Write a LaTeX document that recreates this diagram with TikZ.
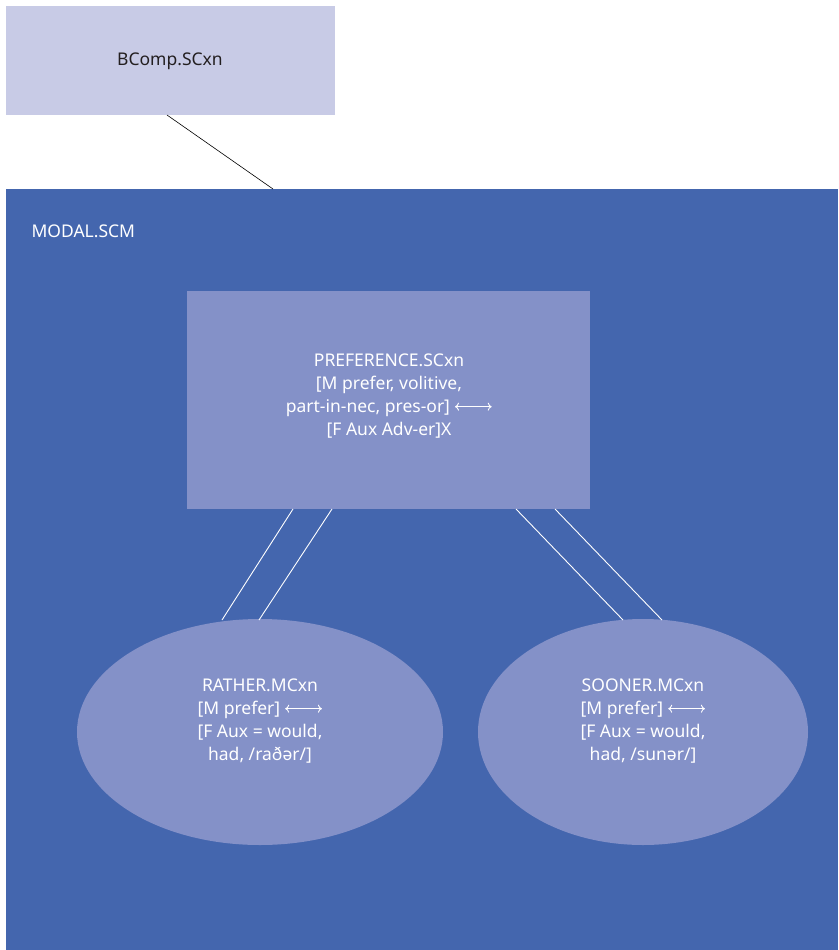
\documentclass[tikz,border=0pt]{standalone}
\usepackage{fontspec}
\setmainfont{Noto Sans}
\definecolor{topfill}{RGB}{200,203,230}
\definecolor{bigfill}{RGB}{68,102,174}
\definecolor{midfill}{RGB}{132,145,200}
\definecolor{toptext}{RGB}{35,31,32}
\newcommand{\lrarr}{\tikz[baseline=0pt] \draw[white, line width=0.9pt, {To[length=4pt,width=8pt]}-{To[length=4pt,width=8pt]}] (0,0.33em) -- (2.1em,0.33em);}
\tikzset{
  txt/.style={font=\fontsize{17.5}{23}\selectfont, text=white, align=center},
  wline/.style={draw=white, line width=0.9pt},
}
\usetikzlibrary{arrows.meta}
\begin{document}
\begin{tikzpicture}[x=1pt,y=-1pt]
\useasboundingbox (0,0) rectangle (838,950);
\fill[white] (0,0) rectangle (838,950);
% top box
\fill[topfill] (6,6) rectangle (335,115);
\node[txt, text=toptext] (bcomp) at (170,61) {BComp.SCxn};
\coordinate (bcompb) at (167,115);
% big box
\fill[bigfill] (6,189) rectangle (838,950);
\coordinate (bigt) at (273,189);
\node[txt, anchor=west] (modal) at (28,231) {MODAL.SCM};
\draw[black, line width=0.6pt] (bcompb) -- (bigt);
% preference box
\fill[midfill] (187,291) rectangle (590,509);
\node[txt] (pref) at (389,396) {PREFERENCE.SCxn\\ {[}M prefer, volitive,\\ part-in-nec, pres-or] \lrarr\\ {[}F Aux Adv-er]X};
% ellipses
\fill[midfill] (260,732) ellipse [x radius=183, y radius=113];
\fill[midfill] (643,732) ellipse [x radius=165, y radius=113];
\node[txt] (rather) at (260,721) {RATHER.MCxn\\ {[}M prefer] \lrarr\\ {[}F Aux = would,\\ had, /raðər/]};
\node[txt] (sooner) at (643,721) {SOONER.MCxn\\ {[}M prefer] \lrarr\\ {[}F Aux = would,\\ had, /sunər/]};
% connectors
\coordinate (p1) at (293,509); \coordinate (r1) at (222,620);
\coordinate (p2) at (332,509); \coordinate (r2) at (259,620);
\coordinate (p3) at (516,509); \coordinate (s1) at (623,620);
\coordinate (p4) at (555,509); \coordinate (s2) at (662,620);
\draw[wline] (p1) -- (r1);
\draw[wline] (p2) -- (r2);
\draw[wline] (p3) -- (s1);
\draw[wline] (p4) -- (s2);
\end{tikzpicture}
\end{document}
